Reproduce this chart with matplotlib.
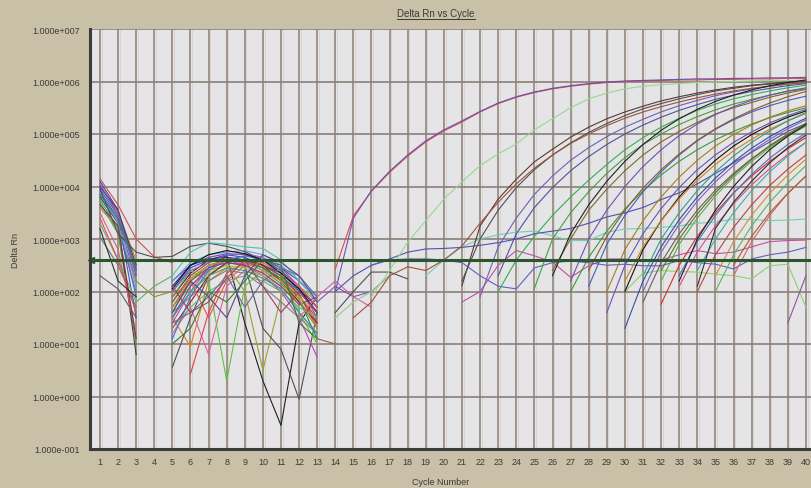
import matplotlib
matplotlib.use("Agg")
import matplotlib.pyplot as plt
from matplotlib.lines import Line2D
import numpy as np

plt.rcParams['font.family'] = ['Liberation Sans', 'DejaVu Sans']

cycles = list(range(1, 41))
decades = list(range(-1, 8))
threshold_log = 2.6

# all Delta Rn values as log10(Delta Rn); None = not plotted (<= 0)

# cycles 1.. : early baseline noise
early_logrn = [
    [4.0, 3.5, 2.3],
    [3.9, 3.4, 2.2],
    [4.1, 3.55, 2.4],
    [4.15, 3.65, 3.0, 2.66, 2.55],
    [3.7, 3.1, 1.0],
    [3.8, 3.3, 0.8],
    [3.75, 3.2, 2.0],
    [3.04, 2.5, 1.7],
    [2.3, 2.05, 1.5],
    [3.5, 2.8, 1.2],
    [3.85, 3.35, 1.9],
    [3.6, 3.2, 2.2, 1.9, 2.0],
    [4.05, 3.5, 2.6],
    [3.95, 3.45, 1.5],
    [3.3, 2.6, 1.8, 2.1, 2.3],
    [4.0, 3.55, 2.5],
    [3.9, 3.3, 2.1],
    [3.4, 2.6, 1.6],
    [3.65, 3.25, 1.1],
    [3.2, 2.2, 1.9],
    [3.95, 3.1, 2.75, 2.65, 2.67, 2.86, 2.92, 2.86, 2.76, 2.6, 2.45, 2.2, 1.9],
    [4.05, 3.45, 2.35],
    [3.85, 3.4, 2.45],
]
early_colors = ['#6040b0', '#7a4fc0', '#3050b0', '#d05050', '#50a050', '#404040', '#30a0a0',
                '#707070', '#606060', '#d06090', '#8050c0', '#909030', '#d08030', '#4060c0',
                '#60b060', '#503080', '#60a0d0', '#e05050', '#903030', '#303030', '#505050',
                '#8a5ad0', '#2e8b57']

# cycles 5..13 : noise cluster
cluster_logrn = [
    [1.8, 2.3, 2.55, 2.65, 2.6, 2.45, 2.2, 1.9, 1.5],
    [2.0, 2.45, 2.6, 2.7, 2.65, 2.5, 2.3, 2.0, 1.6],
    [1.6, 2.2, 2.5, 2.6, 2.55, 2.4, 2.15, 1.8, 1.3],
    [2.2, 2.5, 2.65, 2.72, 2.7, 2.6, 2.4, 2.1, 1.7],
    [1.9, 2.35, 2.6, 2.68, 1.4, 0.3, -0.55, 1.4, 1.9],
    [1.5, 0.95, 2.2, 2.45, 2.5, 2.35, 2.1, 1.8, None],
    [2.3, 2.75, 2.93, 2.9, 2.85, 2.82, 2.6, 2.2, 1.8],
    [1.2, 1.7, 0.8, 2.1, 2.4, 2.3, 2.05, 1.6, 1.2],
    [1.7, 2.1, 2.4, 2.5, 2.0, 0.5, 1.9, 2.1, 1.8],
    [0.56, 1.5, 2.3, 2.55, 2.5, 1.3, 0.9, -0.05, 1.6],
    [None, 0.43, 1.6, 2.35, 2.55, 2.45, 2.25, 1.95, 1.4],
    [1.9, 2.4, 2.2, 0.3, 2.1, 2.4, 2.3, 1.6, 1.0],
    [1.4, 2.0, 2.45, 2.6, 2.5, 2.3, 2.0, 1.5, 0.75],
    [2.1, 2.5, 2.62, 2.65, 2.6, 2.5, 2.35, 2.05, 1.7],
    [1.7, 2.2, 2.45, 2.62, 2.6, 2.5, 2.3, 1.95, 1.3],
    [2.2, 2.55, 2.7, 2.75, 2.78, 2.7, 2.5, 2.2, 1.9],
    [1.5, 2.0, 2.35, 2.5, 2.45, 2.3, 2.1, 1.9, 1.6],
    [1.6, 1.9, 2.2, 2.4, 2.35, 2.1, 1.8, 1.5, 1.2],
    [2.0, 2.4, 2.55, 2.7, 2.72, 2.65, 2.45, 2.1, 1.5],
    [1.3, 1.8, 2.3, 2.55, 2.62, 2.5, 2.2, 1.8, 1.4],
    [1.8, 2.25, 2.5, 2.6, 2.58, 2.45, 2.25, 1.85, 1.1],
    [1.1, 1.9, 2.4, 2.6, 2.68, 2.6, 2.4, 2.0, 1.6],
    [1.9, 2.2, 1.5, 2.2, 2.5, 2.55, 2.35, 2.1, 1.7],
    [1.5, 2.1, 2.45, 2.55, 2.5, 2.35, 2.1, 1.75, 1.9],
    [2.05, 2.5, 2.7, 2.78, 2.72, 2.6, 2.35, 2.05, 1.6],
    [1.3, 1.7, 2.0, 2.2, 2.3, 2.2, 2.0, 1.7, 1.5],
    [1.7, 2.25, 2.5, 2.58, 2.55, 2.4, 2.2, 1.85, 1.3],
    [1.5, 2.0, 2.3, 2.45, 2.4, 2.25, 2.05, 1.6, 1.2],
    [1.4, 1.6, 1.9, 2.3, 1.7, 2.2, 2.45, 2.3, 1.9],
    [2.1, 1.6, 1.8, 2.25, 2.6, 2.1, 1.6, 2.0, 1.6],
    [1.0, 1.3, 2.0, 1.8, 2.2, 2.6, 2.5, 1.4, 1.1],
    [1.6, 2.2, 1.9, 1.5, 2.3, 2.7, 2.55, 2.3, 1.8],
]
cluster_colors = ['#d03030', '#3050c0', '#40a040', '#7040b0', '#202020', '#e08020', '#50c0b0',
                  '#e060a0', '#a0a030', '#505050', '#e04040', '#60c040', '#c040c0', '#203080',
                  '#8b5a2b', '#60a0e0', '#b0c040', '#808080', '#9060d0', '#902020', '#2e8b57',
                  '#4070d0', '#f05050', '#8040a0', '#101010', '#70b070', '#d09040', '#30a090',
                  '#6a6aa0', '#a04060', '#308030', '#5a4a8a']

# short noise pieces, cycles 12..18
noise_start = [13, 12, 14, 13, 14]
noise_logrn = [
    [1.8, 2.1, 1.9, 2.0, 2.3],
    [1.5, 1.9, 2.2, 1.9, 1.7],
    [1.6, 2.0, 2.37, 2.37, 2.24],
    [1.1, 1.0],
    [1.5, 1.8, 2.0, 2.3],
]
noise_colors = ['#8050c0', '#d060a0', '#505050', '#a06040', '#90d080']

# non-amplifying wells
flat_start = [19, 14, 21, 16, 30]
flat_logrn = [
    [2.3, 2.6, 2.85, 3.0, 3.08, 3.13, 3.15, 3.06, 2.97, 2.97, 3.13, 3.19, 3.2, 3.22, 3.25,
     3.3, 3.32, 3.38, 3.37, 3.35, 3.36, 3.38],
    [2.0, 2.3, 2.5, 2.62, 2.75, 2.81, 2.82, 2.84, 2.88, 2.93, 3.0, 3.1, 3.15, 3.2, 3.3,
     3.42, 3.5, 3.6, 3.75, 3.88, 4.05, 4.25, 4.45, 4.65, 4.85, 5.05, 5.2],
    [1.8, 2.0, 2.5, 2.78, 2.68, 2.56, 2.27, 2.49, 2.62, 2.62, 2.58, 2.6, 2.7, 2.78, 2.72,
     2.75, 2.85, 2.95, 2.97, 2.98],
    [2.5, 2.6, 2.62, 2.62, 2.6, 2.55, 2.3, 2.1, 2.05, 2.45, 2.55, 2.58, 2.55, 2.5, 2.52,
     2.49, 2.49, 2.59, 2.55, 2.52, 2.43, 2.62, 2.7, 2.75, 2.84],
    [2.0, 2.35, 2.4, 2.38, 2.37, 2.33, 2.3, 2.24, 2.49, 2.52, 1.7],
]
flat_colors = ['#70d0b0', '#5050b0', '#c050a0', '#6060c0', '#90d070']

# amplification curves
amp_start = [14, 14, 16, 21, 21, 22, 23, 15, 25, 26, 23,
             26, 27, 27, 28, 28, 29, 29, 30, 30, 30, 31, 31, 31, 32, 32, 32,
             33, 33, 33, 34, 34, 34, 35, 35, 36, 36, 39]
amp_logrn = [
    [2.43, 3.44, 3.91, 4.27, 4.58, 4.85, 5.06, 5.23, 5.42, 5.58, 5.7, 5.79, 5.86, 5.91,
     5.95, 5.98, 6.0, 6.01, 6.02, 6.03, 6.03, 6.04, 6.04, 6.05, 6.05, 6.06, 6.06],
    [2.0, 3.4, 3.92, 4.29, 4.6, 4.87, 5.08, 5.25, 5.43, 5.59, 5.71, 5.8, 5.87, 5.92,
     5.96, 5.99, 6.01, 6.02, 6.03, 6.04, 6.05, 6.05, 6.06, 6.06, 6.07, 6.07, 6.08],
    [1.9, 2.4, 2.94, 3.35, 3.76, 4.09, 4.4, 4.62, 4.81, 5.08, 5.29, 5.5, 5.67, 5.78,
     5.86, 5.91, 5.94, 5.96, 5.98, 5.99, 6.0, 6.01, 6.02, 6.02, 6.03],
    [2.11, 3.25, 3.76, 4.14, 4.47, 4.71, 4.94, 5.13, 5.29, 5.42, 5.53, 5.63, 5.71, 5.78,
     5.84, 5.89, 5.93, 5.96, 5.99, 6.01],
    [2.2, 3.0, 3.55, 3.98, 4.32, 4.6, 4.83, 5.03, 5.2, 5.35, 5.48, 5.58, 5.67, 5.75,
     5.82, 5.87, 5.92, 5.95, 5.98, 6.0],
    [1.9, 2.85, 3.4, 3.85, 4.2, 4.5, 4.74, 4.95, 5.13, 5.28, 5.42, 5.54, 5.64, 5.73,
     5.8, 5.86, 5.91, 5.95, 5.98],
    [2.3, 3.1, 3.6, 3.98, 4.3, 4.57, 4.8, 5.0, 5.17, 5.32, 5.45, 5.56, 5.66, 5.74,
     5.81, 5.87, 5.92, 5.96],
    [1.5, 1.8, 2.3, 2.47, 2.4, 2.6, 2.87, 3.3, 3.7, 4.05, 4.35, 4.6, 4.82, 5.0, 5.16,
     5.3, 5.42, 5.52, 5.61, 5.69, 5.76, 5.82, 5.87, 5.91, 5.95, 5.98],
    [2.06, 3.0, 3.5, 3.9, 4.25, 4.55, 4.8, 5.0, 5.18, 5.33, 5.46, 5.57, 5.66, 5.74, 5.81, 5.86],
    [2.4, 3.0, 3.55, 3.95, 4.3, 4.6, 4.85, 5.05, 5.22, 5.38, 5.5, 5.6, 5.7, 5.78, 5.85],
    [2.0, 2.6, 3.05, 3.45, 3.8, 4.12, 4.42, 4.7, 4.93, 5.13, 5.3, 5.45, 5.57, 5.67,
     5.75, 5.82, 5.88, 5.93],
    [2.3, 3.1, 3.65, 4.1, 4.48, 4.8, 5.07, 5.29, 5.47, 5.62, 5.74, 5.84, 5.92, 5.98, 6.03],
    [2.2, 3.0, 3.55, 4.0, 4.38, 4.7, 4.97, 5.19, 5.37, 5.52, 5.64, 5.74, 5.82, 5.88],
    [2.0, 2.65, 3.15, 3.57, 3.92, 4.22, 4.48, 4.7, 4.89, 5.05, 5.19, 5.31, 5.41, 5.5],
    [2.1, 2.9, 3.45, 3.9, 4.28, 4.6, 4.87, 5.09, 5.27, 5.42, 5.54, 5.64, 5.72],
    [2.4, 3.05, 3.55, 3.97, 4.32, 4.62, 4.88, 5.1, 5.29, 5.45, 5.59, 5.71, 5.81],
    [2.0, 2.8, 3.35, 3.8, 4.18, 4.5, 4.77, 4.99, 5.17, 5.32, 5.44, 5.54],
    [1.6, 2.5, 3.1, 3.58, 3.98, 4.32, 4.6, 4.84, 5.04, 5.21, 5.35, 5.47],
    [2.0, 2.8, 3.35, 3.8, 4.18, 4.5, 4.77, 4.99, 5.17, 5.32, 5.44],
    [2.2, 2.85, 3.35, 3.77, 4.12, 4.42, 4.68, 4.9, 5.09, 5.25, 5.39],
    [1.3, 2.2, 2.85, 3.37, 3.8, 4.16, 4.47, 4.73, 4.95, 5.14, 5.3],
    [2.3, 3.0, 3.5, 3.92, 4.28, 4.58, 4.84, 5.06, 5.25, 5.41],
    [2.0, 2.75, 3.28, 3.72, 4.09, 4.4, 4.67, 4.9, 5.1, 5.27],
    [1.8, 2.55, 3.1, 3.55, 3.93, 4.25, 4.53, 4.77, 4.98, 5.16],
    [1.76, 2.5, 3.05, 3.5, 3.88, 4.2, 4.48, 4.72, 4.93],
    [2.2, 2.9, 3.4, 3.82, 4.18, 4.48, 4.74, 4.96, 5.15],
    [2.4, 3.0, 3.48, 3.88, 4.22, 4.52, 4.78, 5.0, 5.2],
    [2.1, 2.75, 3.25, 3.67, 4.03, 4.34, 4.61, 4.84],
    [2.3, 2.95, 3.45, 3.87, 4.23, 4.54, 4.8, 5.02],
    [2.2, 3.0, 3.55, 4.0, 4.38, 4.7, 4.96, 5.18],
    [2.0, 2.7, 3.22, 3.65, 4.02, 4.33, 4.6],
    [2.4, 3.0, 3.5, 3.92, 4.28, 4.58, 4.84],
    [2.1, 3.2, 3.7, 4.1, 4.45, 4.74, 4.98],
    [2.3, 2.95, 3.45, 3.87, 4.22, 4.52],
    [2.0, 2.7, 3.25, 3.7, 4.07, 4.4],
    [2.3, 2.95, 3.45, 3.87, 4.2],
    [2.5, 3.05, 3.5, 3.87, 4.2],
    [1.4, 2.3],
]
amp_colors = ['#e04848', '#6a50b0', '#98d890', '#5a3a30', '#505050', '#7060b8', '#5050a0',
              '#a05040', '#40a040', '#7a6a30', '#30b050',
              '#202020', '#7050b0', '#3a9a3a', '#4060c0', '#8b5a2b', '#a08020', '#7050b0',
              '#101010', '#d08020', '#3050a0', '#30a090', '#8060c0', '#606060', '#d03030',
              '#50b050', '#6b6b20', '#d05090', '#5070d0', '#202020', '#c04040', '#40b0a0',
              '#303030', '#d09030', '#60b060', '#e06060', '#a06030', '#9050a0']


def to_rn(vals):
    arr = np.array([np.nan if v is None else v for v in vals], dtype=float)
    return 10 ** arr


fig = plt.figure(figsize=(8.11, 4.89), dpi=100, facecolor='#c8c0a7')
ax = fig.add_axes([90 / 811, 39 / 489, 721 / 811, 420 / 489])
ax.set_facecolor('#e5e5e7')
ax.set_yscale('log')
ax.set_xlim(0.45, 40.28)
ax.set_ylim(10.0 ** decades[0], 10.0 ** decades[-1])

# grid
for c in cycles:
    ax.axvline(c, color='#9a8e84', lw=1.3, zorder=1)
    ax.axvline(c + 0.09, color='#d8d4d0', lw=0.7, zorder=1)
for d in decades:
    ax.axhline(10.0 ** d, color='#8c8078', lw=1.2, zorder=1)

lw = 0.8
for vals, col in zip(early_logrn, early_colors):
    ax.plot(cycles[:len(vals)], to_rn(vals), color=col, lw=lw, zorder=2)
for vals, col in zip(cluster_logrn, cluster_colors):
    ax.plot(cycles[4:4 + len(vals)], to_rn(vals), color=col, lw=lw, zorder=2)
for s, vals, col in zip(noise_start, noise_logrn, noise_colors):
    ax.plot(cycles[s - 1:s - 1 + len(vals)], to_rn(vals), color=col, lw=lw, zorder=2)
for s, vals, col in zip(flat_start, flat_logrn, flat_colors):
    ax.plot(cycles[s - 1:s - 1 + len(vals)], to_rn(vals), color=col, lw=lw, zorder=2)
for s, vals, col in zip(amp_start, amp_logrn, amp_colors):
    ax.plot(cycles[s - 1:s - 1 + len(vals)], to_rn(vals), color=col, lw=lw, zorder=2)

# threshold
ax.axhline(10 ** threshold_log, color='#2c5530', lw=2.2, zorder=3)
ax.plot([0.5], [10 ** threshold_log], marker='<', color='#2c5530', ms=4, zorder=4, clip_on=False)

ax.set_xticks(cycles)
ax.set_xticklabels([str(c) for c in cycles], fontsize=6.5, color='#3a3a3a')
ax.set_yticks([10.0 ** d for d in decades])
ax.set_yticklabels(['1.000e{:+04d}'.format(d) for d in decades], fontsize=6.5, color='#3a3a3a')
ax.minorticks_off()
ax.tick_params(length=0, pad=7)
ax.tick_params(axis='x', pad=6)

for side in ['top', 'right']:
    ax.spines[side].set_visible(False)
for side in ['left', 'bottom']:
    ax.spines[side].set_color('#3c3c3c')
    ax.spines[side].set_linewidth(2.2)
    ax.spines[side].set_zorder(5)

fig.text(15 / 811, 1 - 250 / 489, 'Delta Rn', rotation=90, fontsize=6.5, color='#3a3a3a',
         ha='center', va='center')
fig.text(441 / 811, 1 - 483 / 489, 'Cycle Number', fontsize=6.5, color='#3a3a3a',
         ha='center', va='center')
title = fig.text(436 / 811, 1 - 14 / 489, 'Delta Rn vs Cycle', fontsize=7, color='#3a3a3a',
                 ha='center', va='center')

fig.canvas.draw()
bb = title.get_window_extent().transformed(fig.transFigure.inverted())
fig.add_artist(Line2D([bb.x0, bb.x1], [bb.y0 - 0.002, bb.y0 - 0.002], color='#3a3a3a', lw=0.7))

fig.savefig('out.png', dpi=100, facecolor=fig.get_facecolor())
